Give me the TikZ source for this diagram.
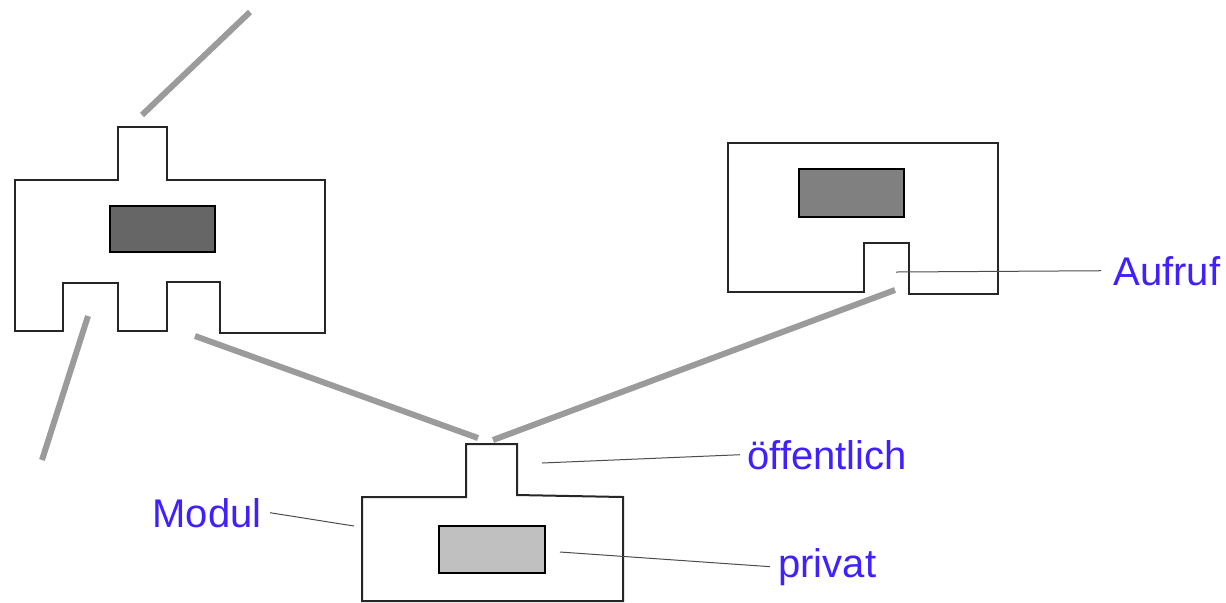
\documentclass[tikz,border=0pt]{standalone}
\usepackage{fontspec}
\setmainfont{Liberation Sans}
\definecolor{labelblue}{RGB}{64,32,255}
\definecolor{linkgray}{RGB}{155,155,155}
\definecolor{coredark}{RGB}{102,102,102}
\definecolor{coremid}{RGB}{128,128,128}
\definecolor{corelight}{RGB}{192,192,192}
\begin{document}
\begin{tikzpicture}[x=0.5pt,y=-0.5pt,
  outline/.style={draw=black!85, line width=1pt, line join=miter},
  core/.style={draw=black, line width=1.2pt, inner sep=0pt},
  link/.style={draw=linkgray, line width=3pt},
  pointer/.style={draw=black!70, line width=0.5pt},
  lbl/.style={text=labelblue, font=\fontsize{20}{24}\selectfont, inner sep=0pt, anchor=base west}]
\useasboundingbox (0,0) rectangle (1226,602);

% module 1 (top left)
\draw[outline] (15,180) -- (118,180) -- (118,127) -- (167,127) -- (167,180) -- (325,180)
  -- (325,333) -- (220,333) -- (220,282) -- (167,282) -- (167,331) -- (118,331)
  -- (118,283) -- (63,283) -- (63,331) -- (15,331) -- cycle;
\node[core, fill=coredark, minimum width=52.5pt, minimum height=23pt] (c1) at (162.5,229) {};

% module 2 (top right)
\draw[outline] (728,143) -- (998,143) -- (998,294) -- (909,294) -- (909,243) -- (864,243)
  -- (864,292) -- (728,292) -- cycle;
\node[core, fill=coremid, minimum width=52.5pt, minimum height=24pt] (c2) at (851.5,193) {};

% module 3 (bottom)
\draw[outline] (362,497) -- (466,497) -- (466,444) -- (517,444) -- (517,495) -- (623,497)
  -- (623,601) -- (362,601) -- cycle;
\node[core, fill=corelight, minimum width=53pt, minimum height=23.5pt] (c3) at (492,549.5) {};

% links
\coordinate (l1a) at (250,12);  \coordinate (l1b) at (142,115);
\coordinate (l2a) at (88,316);  \coordinate (l2b) at (42,460);
\coordinate (l3a) at (195,336); \coordinate (l3b) at (478,438);
\coordinate (l4a) at (895,290); \coordinate (l4b) at (493,440);
\draw[link] (l1a) -- (l1b);
\draw[link] (l2a) -- (l2b);
\draw[link] (l3a) -- (l3b);
\draw[link] (l4a) -- (l4b);

% labels
\node[lbl] (aufruf) at (1113,285) {Aufruf};
\node[lbl] (oeff) at (747,469) {öffentlich};
\node[lbl] (privat) at (778,577) {privat};
\node[lbl, anchor=base east] (modul) at (262,527) {Modul};

\coordinate (pa) at (896,272);
\coordinate (po) at (542,463);
\coordinate (pp) at (560,552);
\coordinate (pm) at (354,526);
\draw[pointer] (pa) -- ([xshift=-6pt]aufruf.west);
\draw[pointer] (po) -- ([xshift=-3.5pt]oeff.west);
\draw[pointer] (pp) -- ([xshift=-4pt]privat.west);
\draw[pointer] (pm) -- ([xshift=4pt]modul.east);
\end{tikzpicture}
\end{document}
